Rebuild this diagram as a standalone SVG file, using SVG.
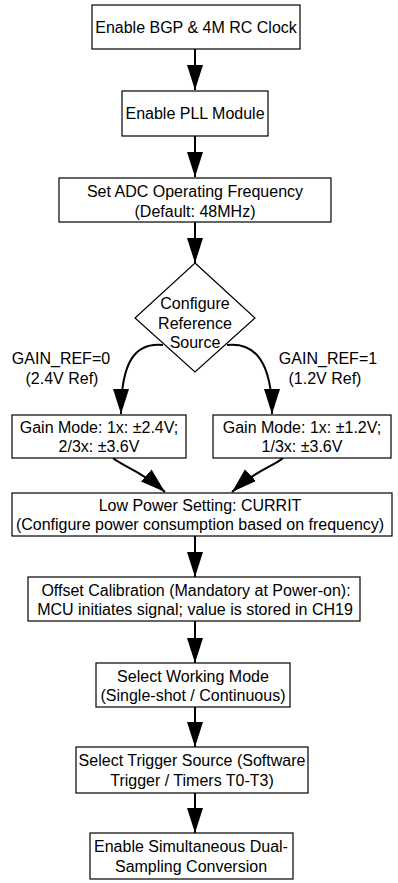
<svg xmlns="http://www.w3.org/2000/svg" width="398" height="883" viewBox="0 0 398 883">
<defs>
<style>
.box{fill:#fff;stroke:#000;stroke-width:1.2}
.t{font-family:"Liberation Sans",Arial,sans-serif;font-size:16px;fill:#000;text-anchor:middle}
.c{fill:none;stroke:#000;stroke-width:2}
</style>
<marker id="ah" markerUnits="userSpaceOnUse" markerWidth="26" markerHeight="17" refX="25" refY="8" orient="auto">
<path d="M0,0 L25,8 L0,16 z" fill="#000"/>
</marker>
</defs>
<rect width="398" height="883" fill="#fff"/>
<g id="connectors">
<path class="c" d="M195,49 V90" marker-end="url(#ah)"/>
<path class="c" d="M195,136 V177" marker-end="url(#ah)"/>
<path class="c" d="M195,222 V263" marker-end="url(#ah)"/>
<path class="c" d="M163,345 C135,342 121,362 121,414" marker-end="url(#ah)"/>
<path class="c" d="M227,345 C255,342 272,362 272,414" marker-end="url(#ah)"/>
<path class="c" d="M113,458 C122,466 140,470 165,492" marker-end="url(#ah)"/>
<path class="c" d="M283,458 C274,466 256,470 232,492" marker-end="url(#ah)"/>
<path class="c" d="M195,536 V577" marker-end="url(#ah)"/>
<path class="c" d="M195,621 V663" marker-end="url(#ah)"/>
<path class="c" d="M195,707 V747" marker-end="url(#ah)"/>
<path class="c" d="M195,793 V833" marker-end="url(#ah)"/>
<text class="t" x="61" y="364">GAIN_REF=0</text>
<text class="t" x="62" y="384">(2.4V Ref)</text>
<text class="t" x="328" y="364">GAIN_REF=1</text>
<text class="t" x="325" y="384">(1.2V Ref)</text>
</g>
<g id="n1"><rect class="box" x="92" y="5" width="208" height="44"/><text class="t" x="196" y="33">Enable BGP &amp; 4M RC Clock</text></g>
<g id="n2"><rect class="box" x="122" y="91" width="146" height="45"/><text class="t" x="195" y="119">Enable PLL Module</text></g>
<g id="n3"><rect class="box" x="59" y="178" width="272" height="44"/><text class="t" x="195" y="197">Set ADC Operating Frequency</text><text class="t" x="195" y="217">(Default: 48MHz)</text></g>
<g id="n4"><path class="box" d="M195,263 L255,318 L195,372 L135,318 Z"/><text class="t" x="195" y="309">Configure</text><text class="t" x="195" y="329">Reference</text><text class="t" x="195" y="348">Source</text></g>
<g id="n5"><rect class="box" x="12" y="415" width="174" height="43"/><text class="t" x="99" y="433">Gain Mode: 1x: ±2.4V;</text><text class="t" x="99" y="452">2/3x: ±3.6V</text></g>
<g id="n6"><rect class="box" x="213" y="415" width="178" height="43"/><text class="t" x="302" y="433">Gain Mode: 1x: ±1.2V;</text><text class="t" x="302" y="452">1/3x: ±3.6V</text></g>
<g id="n7"><rect class="box" x="12" y="493" width="380" height="43"/><text class="t" x="200" y="511">Low Power Setting: CURRIT</text><text class="t" x="200" y="530">(Configure power consumption based on frequency)</text></g>
<g id="n8"><rect class="box" x="28" y="577" width="332" height="44"/><text class="t" x="196" y="596">Offset Calibration (Mandatory at Power-on):</text><text class="t" x="195" y="615">MCU initiates signal; value is stored in CH19</text></g>
<g id="n9"><rect class="box" x="96" y="663" width="194" height="44"/><text class="t" x="193" y="682">Select Working Mode</text><text class="t" x="193" y="701">(Single-shot / Continuous)</text></g>
<g id="n10"><rect class="box" x="76" y="747" width="232" height="46"/><text class="t" x="192" y="766">Select Trigger Source (Software</text><text class="t" x="192" y="786">Trigger / Timers T0-T3)</text></g>
<g id="n11"><rect class="box" x="90" y="833" width="203" height="46"/><text class="t" x="191" y="852">Enable Simultaneous Dual-</text><text class="t" x="191" y="872">Sampling Conversion</text></g>
</svg>
